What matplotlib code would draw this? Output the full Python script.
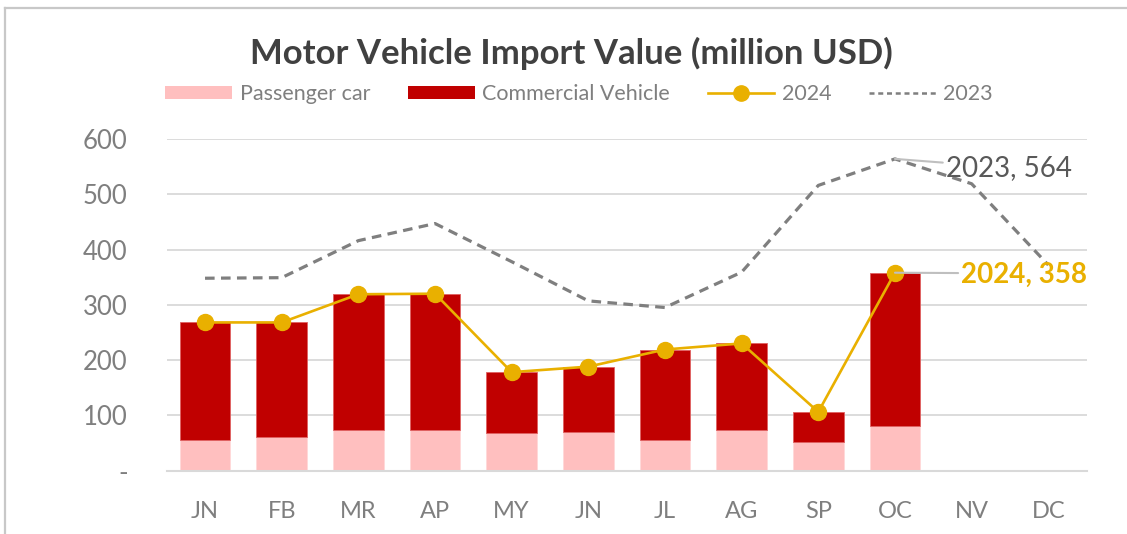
import matplotlib
matplotlib.use("Agg")
import matplotlib.pyplot as plt
from matplotlib.lines import Line2D
from matplotlib.patches import Patch
import numpy as np

months = ['JN', 'FB', 'MR', 'AP', 'MY', 'JN', 'JL', 'AG', 'SP', 'OC', 'NV', 'DC']
passenger = [55, 61, 73, 74, 68, 70, 55, 74, 51, 81]
commercial = [213, 207, 246, 246, 110, 118, 164, 156, 55, 277]
total_2024 = [268, 268, 319, 320, 178, 188, 219, 230, 106, 358]
total_2023 = [348, 349, 416, 447, 378, 307, 295, 359, 516, 564, 519, 372]
yticks = [0, 100, 200, 300, 400, 500, 600]
ytick_labels = ['-', '100', '200', '300', '400', '500', '600']

plt.rcParams['font.family'] = ['Lato', 'DejaVu Sans']

W, H = 1127, 534
fig = plt.figure(figsize=(W / 100, H / 100), dpi=100)
ax = fig.add_axes([166.7 / W, 63.5 / H, (1086.6 - 166.7) / W, (470.5 - 139) / H])

PINK = '#FFBFBF'
RED = '#C00000'
GOLD = '#E9B000'
DGRAY = '#7F7F7F'
TXT = '#7F7F7F'

x = np.arange(len(months))
xb = x[:len(passenger)]
bw = 0.66
ax.bar(xb, passenger, width=bw, color=PINK, edgecolor='#FFD9D9', linewidth=0.6, zorder=2)
ax.bar(xb, commercial, bottom=passenger, width=bw, color=RED, edgecolor='#E06060', linewidth=0.6, zorder=2)
ax.plot(x, total_2023, color=DGRAY, linestyle=(0, (3, 2)), linewidth=2.3, zorder=3)
ax.plot(xb, total_2024, color=GOLD, linewidth=1.9, marker='o', markersize=11.5, zorder=4)

ax.set_xlim(-0.5, len(months) - 0.5)
ax.set_ylim(0, 600)
ax.set_yticks(yticks)
ax.set_yticklabels(ytick_labels)
ax.set_xticks(x)
ax.set_xticklabels(months)
ax.tick_params(axis='y', length=0, pad=28, labelsize=18.5, labelcolor=TXT)
ax.tick_params(axis='x', length=0, pad=22, labelsize=17, labelcolor=TXT)
ax.grid(axis='y', color='#D9D9D9', linewidth=1.3, zorder=0)
ax.set_axisbelow(True)
for s in ['top', 'right', 'left']:
    ax.spines[s].set_visible(False)
ax.spines['bottom'].set_color('#D9D9D9')
ax.spines['bottom'].set_linewidth(1.5)

# annotations
i23 = 9
ax.annotate('2023, 564', xy=(x[i23], total_2023[i23]), xytext=(x[i23] + 0.66, total_2023[i23] - 16),
            fontsize=20, color='#595959', va='center', ha='left',
            arrowprops=dict(arrowstyle='-', color='#BFBFBF', lw=1.5, shrinkA=0, shrinkB=0), zorder=5)
i24 = 9
ax.annotate('2024, 358', xy=(x[i24], total_2024[i24]), xytext=(x[i24] + 0.86, total_2024[i24] - 3),
            fontsize=20, color=GOLD, fontweight='bold', va='center', ha='left',
            arrowprops=dict(arrowstyle='-', color='#BFBFBF', lw=1.5, shrinkA=0, shrinkB=0,
                            relpos=(0, 0.55)), zorder=5)

fig.text(0.507, 1 - 53 / H, 'Motor Vehicle Import Value (million USD)', ha='center', va='center',
         fontsize=25, fontweight='bold', color='#404040')

handles = [Patch(facecolor=PINK, edgecolor='none'),
           Patch(facecolor=RED, edgecolor='none'),
           Line2D([], [], color=GOLD, lw=1.9, marker='o', markersize=11),
           Line2D([], [], color=DGRAY, lw=1.8, linestyle=(0, (2, 1.5)))]
labels = ['Passenger car', 'Commercial Vehicle', '2024', '2023']
leg = fig.legend(handles, labels, loc='center', bbox_to_anchor=(0.514, 1 - 94 / H), ncol=4,
                 frameon=False, fontsize=15.5, handlelength=3.1, handletextpad=0.35,
                 columnspacing=1.75, handleheight=0.55)
for t in leg.get_texts():
    t.set_color(TXT)

# figure border (top and left)
fig.add_artist(Line2D([4.5 / W, 4.5 / W], [0, 1 - 8 / H], transform=fig.transFigure, color='#C8C8C8', lw=1.6))
fig.add_artist(Line2D([4.5 / W, 1], [1 - 8 / H, 1 - 8 / H], transform=fig.transFigure, color='#C8C8C8', lw=1.6))

fig.savefig('out.png', dpi=100)
